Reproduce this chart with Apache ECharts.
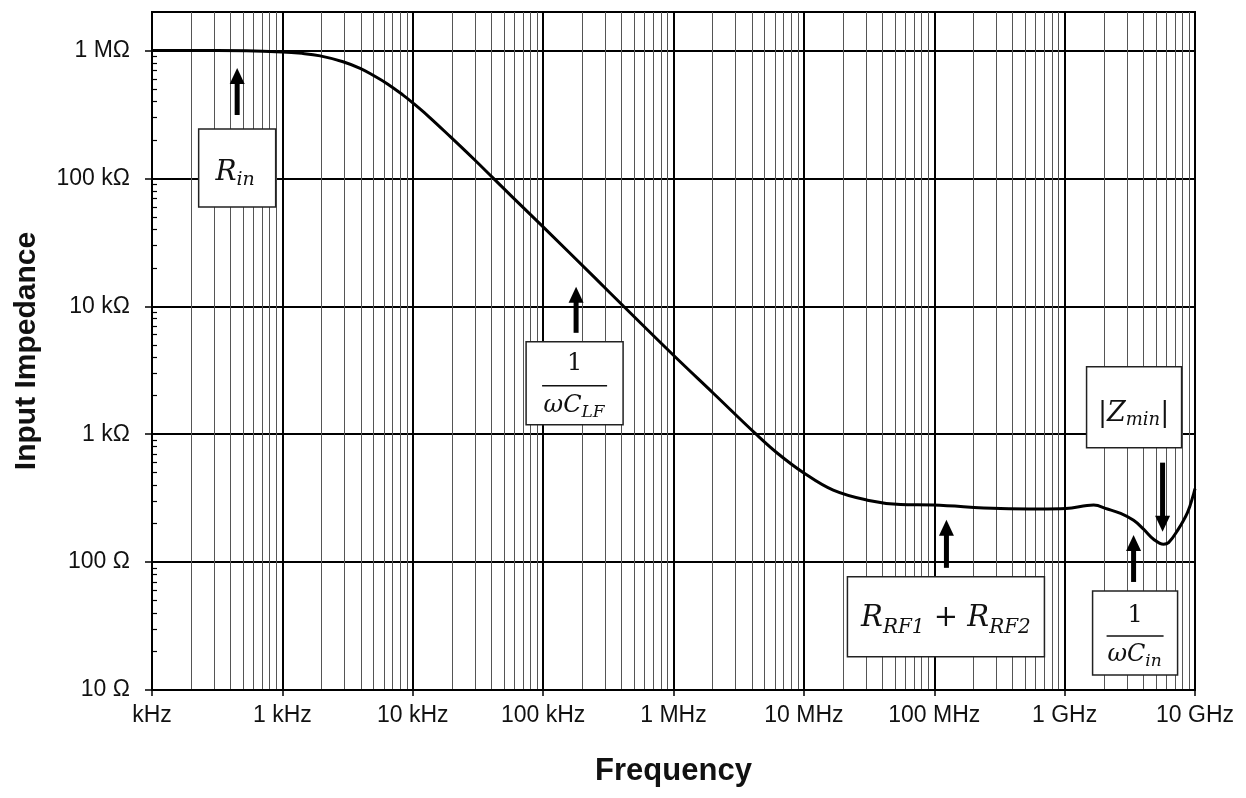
<!DOCTYPE html>
<html>
<head>
<meta charset="utf-8">
<script src="https://cdn.jsdelivr.net/npm/echarts@6/dist/echarts.min.js"></script>
<style>
html,body{margin:0;padding:0;background:#fff;}
#c{width:1246px;height:798px;}
</style>
</head>
<body>
<div id="c"></div>
<script>
// ---- data ----
const freqHz = [100, 316, 1000, 1410, 1950, 2920, 3950, 4960, 6360, 8430, 10000,
  13000, 19400, 29100, 41600, 59000, 100000, 251000, 414000, 1000000, 2030000,
  4300000, 6270000, 9930000, 16800000, 30700000, 55000000, 98700000, 322000000, 653000000, 1020000000,
  1670000000, 2130000000, 2690000000, 3380000000, 4030000000, 4810000000, 5740000000, 6270000000, 7350000000, 8770000000,
  9750000000, 10000000000];
const impedanceOhm = [1000000, 999000, 975000, 950000, 908000, 817000, 725000, 640000, 550000, 448000, 390000,
  310000, 212000, 143000, 100000, 70500, 41800, 16600, 10000, 4140, 2080,
  1000, 710, 500, 365, 305, 282, 279, 262, 260, 262,
  279, 260, 240, 212, 181, 151, 138, 142, 177, 245,
  340, 375];
const xTickLabels = ['kHz', '1 kHz', '10 kHz', '100 kHz', '1 MHz', '10 MHz', '100 MHz', '1 GHz', '10 GHz'];
const yTickValues = [10, 100, 1000, 10000, 100000, 1000000];
const yTickLabels = ['10 Ω', '100 Ω', '1 kΩ', '10 kΩ', '100 kΩ', '1 MΩ'];
// annotation arrow tips (data space)
const annotFreqHz = [450, 179000, 124000000, 5640000000, 3380000000];
const annotOhm = [730000, 14200, 214, 173, 163];

// ---- chart ----
const chart = echarts.init(document.getElementById('c'), null, {renderer: 'canvas', width: 1246, height: 798});

const sansFont = 'Liberation Sans';
function decadeIndex(v, base) {
  const l = Math.log10(v);
  const r = Math.round(l);
  if (Math.abs(l - r) > 1e-6) return -1;
  return r - base;
}

const yAxisCommon = {
  type: 'log', logBase: 10, min: 10, max: 2000000
};

const option = {
  animation: false,
  backgroundColor: '#fff',
  grid: {left: 152, right: 51, top: 12, bottom: 108, containLabel: false, outerBoundsMode: 'none',
    show: true, borderColor: '#000', borderWidth: 2, backgroundColor: 'transparent'},
  xAxis: {
    type: 'log', logBase: 10, min: 100, max: 10000000000,
    name: 'Frequency', nameLocation: 'middle', nameGap: 66,
    nameTextStyle: {fontFamily: sansFont, fontSize: 31, fontWeight: 'bold', color: '#111'},
    axisLine: {show: true, onZero: false, lineStyle: {color: '#000', width: 2}},
    axisTick: {show: true, length: 6, lineStyle: {color: '#000', width: 1.5}},
    axisLabel: {
      show: true, margin: 14, fontFamily: sansFont, fontSize: 23, color: '#111',
      showMinLabel: true, showMaxLabel: true, hideOverlap: false,
      formatter: function (v) { const i = decadeIndex(v, 2); return i >= 0 && i < xTickLabels.length ? xTickLabels[i] : ''; }
    },
    splitLine: {show: true, lineStyle: {color: '#000', width: 2}},
    minorTick: {show: false, splitNumber: 9},
    minorSplitLine: {show: true, lineStyle: {color: '#555', width: 1}}
  },
  yAxis: [
    Object.assign({}, yAxisCommon, {
      position: 'left',
      name: 'Input Impedance', nameLocation: 'middle', nameGap: 110,
      nameTextStyle: {fontFamily: sansFont, fontSize: 30, fontWeight: 'bold', color: '#111'},
      axisLine: {show: true, lineStyle: {color: '#000', width: 2}},
      axisTick: {show: true, length: 7, customValues: yTickValues, lineStyle: {color: '#000', width: 1.5}},
      axisLabel: {
        show: true, margin: 22, fontFamily: sansFont, fontSize: 23, color: '#111',
        showMinLabel: true, showMaxLabel: true, hideOverlap: false,
        formatter: function (v) { const i = decadeIndex(v, 1); return i >= 0 && i < yTickLabels.length ? yTickLabels[i] : ''; }
      },
      splitLine: {show: true, lineStyle: {color: '#000', width: 2}},
      minorTick: {show: false, splitNumber: 9},
      minorSplitLine: {show: false}
    }),
    Object.assign({}, yAxisCommon, {
      position: 'left',
      axisLine: {show: false},
      axisTick: {show: false, inside: true},
      axisLabel: {show: false},
      splitLine: {show: false},
      minorTick: {show: true, splitNumber: 9, length: 5, lineStyle: {color: '#000', width: 1.2}},
      minorSplitLine: {show: false}
    })
  ],
  series: [{
    type: 'line',
    xAxisIndex: 0, yAxisIndex: 0,
    data: freqHz.map(function (f, i) { return [f, impedanceOhm[i]]; }),
    showSymbol: false, symbol: 'none',
    smooth: 0.4,
    lineStyle: {color: '#000', width: 3},
    z: 5
  }]
};
chart.setOption(option);

// ---- annotations (math labels in boxes + arrows), anchored through the chart's scales ----
const mctx = document.createElement('canvas').getContext('2d');
function fontOf(kind, size) { return (kind === 'up' ? '' : 'italic ') + size + 'px "DejaVu Serif"'; }
function runWidth(r) { mctx.font = fontOf(r[1], r[2]); return mctx.measureText(r[0]).width; }
function mathLine(runs, cx, baseline, els) {
  const ws = runs.map(runWidth);
  const total = ws.reduce(function (a, b) { return a + b; }, 0);
  let x = cx - total / 2;
  runs.forEach(function (r, i) {
    els.push({
      type: 'text', z: 120, x: x, y: baseline + (r[3] || 0) - 0.3 * r[2],
      style: {text: r[0], font: fontOf(r[1], r[2]), fill: '#111',
        textAlign: 'left', textVerticalAlign: 'middle', align: 'left', verticalAlign: 'middle'}
    });
    x += ws[i];
  });
}
function arrow(x, yTip, len, dir, els) {
  // dir = 1: points up (shaft below tip); dir = -1: points down
  const head = 16, hw = 7.5, sw = 5;
  els.push({type: 'polygon', z: 115, shape: {points: [[x, yTip], [x - hw, yTip + dir * head], [x + hw, yTip + dir * head]]}, style: {fill: '#000'}});
  const y1 = yTip + dir * (head - 2), y2 = yTip + dir * len;
  els.push({type: 'rect', z: 115, shape: {x: x - sw / 2, y: Math.min(y1, y2), width: sw, height: Math.abs(y2 - y1)}, style: {fill: '#000'}});
}
function box(cx, top, w, h, els) {
  els.push({type: 'rect', z: 110, shape: {x: cx - w / 2, y: top, width: w, height: h}, style: {fill: '#fff', stroke: '#222', lineWidth: 1.5}});
}
function fracBar(cx, y, w, els) {
  els.push({type: 'line', z: 120, shape: {x1: cx - w / 2, y1: y, x2: cx + w / 2, y2: y}, style: {stroke: '#111', lineWidth: 1.5}});
}

const annotLayout = [
  {dir: 1, len: 47, box: [0, 61, 77, 78],
    lines: [{runs: [['R', 'it', 28], ['in', 'sub', 19, 5]], cx: -2, base: 113}]},
  {dir: 1, len: 46, box: [-1.5, 55, 97, 83], bar: [-1.5, 99, 65],
    lines: [{runs: [['1', 'up', 24]], cx: -1.5, base: 84},
            {runs: [['ω', 'it', 24], ['C', 'it', 24], ['LF', 'sub', 17, 5]], cx: -2, base: 126}]},
  {dir: 1, len: 48, box: [-0.5, 57, 197, 80],
    lines: [{runs: [['R', 'it', 29], ['RF1', 'sub', 20, 7], [' + ', 'up', 29], ['R', 'it', 29], ['RF2', 'sub', 20, 7]], cx: -0.5, base: 107}]},
  {dir: -1, len: 69, box: [-28.5, -165, 95, 81],
    lines: [{runs: [['|', 'up', 27], ['Z', 'it', 27], ['min', 'sub', 18, 4], ['|', 'up', 27]], cx: -29, base: -110}]},
  {dir: 1, len: 47, box: [1.5, 56, 85, 84], bar: [1.5, 101, 57],
    lines: [{runs: [['1', 'up', 24]], cx: 1.5, base: 88},
            {runs: [['ω', 'it', 24], ['C', 'it', 24], ['in', 'sub', 17, 5]], cx: 1, base: 127}]}
];

const els = [];
annotFreqHz.forEach(function (f, i) {
  const p = chart.convertToPixel({xAxisIndex: 0, yAxisIndex: 0}, [f, annotOhm[i]]);
  const L = annotLayout[i];
  const tx = p[0], ty = p[1];
  arrow(tx, ty, L.len, L.dir, els);
  box(tx + L.box[0], ty + L.box[1], L.box[2], L.box[3], els);
  if (L.bar) fracBar(tx + L.bar[0], ty + L.bar[1], L.bar[2], els);
  L.lines.forEach(function (ln) { mathLine(ln.runs, tx + ln.cx, ty + ln.base, els); });
});
chart.setOption({graphic: {elements: els}});
</script>
</body>
</html>
